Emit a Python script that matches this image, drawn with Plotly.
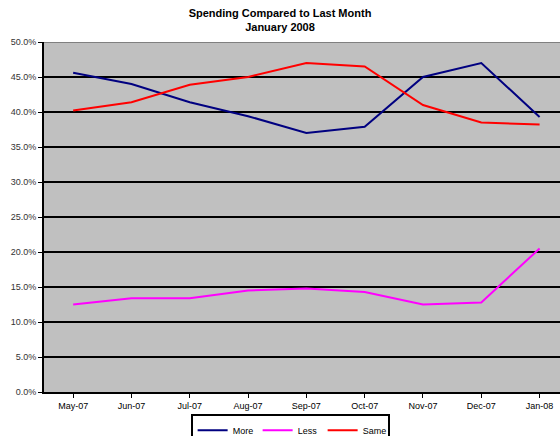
import plotly.graph_objects as go

months = ["May-07", "Jun-07", "Jul-07", "Aug-07", "Sep-07", "Oct-07", "Nov-07", "Dec-07", "Jan-08"]
more = [45.6, 44.0, 41.4, 39.4, 37.0, 37.9, 45.0, 47.0, 39.3]
less = [12.5, 13.4, 13.4, 14.5, 14.8, 14.3, 12.5, 12.8, 20.5]
same = [40.2, 41.4, 43.9, 45.0, 47.0, 46.5, 41.0, 38.5, 38.2]
y_ticks = [0, 5, 10, 15, 20, 25, 30, 35, 40, 45, 50]

fig = go.Figure()
for name, vals, color in [("More", more, "#000080"), ("Less", less, "#FF00FF"), ("Same", same, "#FF0000")]:
    fig.add_trace(go.Scatter(x=list(range(len(months))), y=vals, name=name, mode="lines",
                             line=dict(color=color, width=2)))

fig.update_layout(
    width=560, height=436,
    margin=dict(l=44, r=0, t=42, b=44, autoexpand=False),
    paper_bgcolor="white", plot_bgcolor="#C0C0C0",
    font=dict(family="Liberation Sans, Arial", size=9, color="#000000"),
    title=dict(text="<b>Spending Compared to Last Month<br>January 2008</b>",
               x=0.5, xanchor="center", xref="container", y=0.961, yanchor="top", yref="container",
               font=dict(size=11, color="black")),
    showlegend=True,
    legend=dict(orientation="h", x=0.477, xanchor="center", y=-0.062, yanchor="top",
                bordercolor="black", borderwidth=2, bgcolor="white",
                font=dict(size=9), itemwidth=30, tracegroupgap=0,
                entrywidthmode="pixels", entrywidth=20),
)
fig.update_xaxes(range=[-0.5, 8.35], tickmode="array", tickvals=list(range(len(months))),
                 ticktext=months, showgrid=False, showline=True, linecolor="black", linewidth=2,
                 zeroline=False, fixedrange=True,
                 tickson="boundaries", ticks="outside", ticklen=4, tickcolor="black", tickwidth=1)
fig.update_yaxes(range=[0, 50], tickmode="array", tickvals=y_ticks,
                 ticktext=[f"{v:.1f}%" for v in y_ticks], showgrid=True, gridcolor="black", gridwidth=2,
                 showline=True, linecolor="black", linewidth=2, ticks="outside", ticklen=4,
                 tickcolor="black", zeroline=False, fixedrange=True,
                 tickfont=dict(color="#333333", size=9))
fig.add_shape(type="line", xref="paper", yref="y", x0=0, x1=1, y0=50, y1=50,
              line=dict(color="#808080", width=2), layer="above")

fig.write_html("out.html", config={"displayModeBar": False},
               post_script="document.body.style.margin='0';document.body.style.overflow='hidden';")
